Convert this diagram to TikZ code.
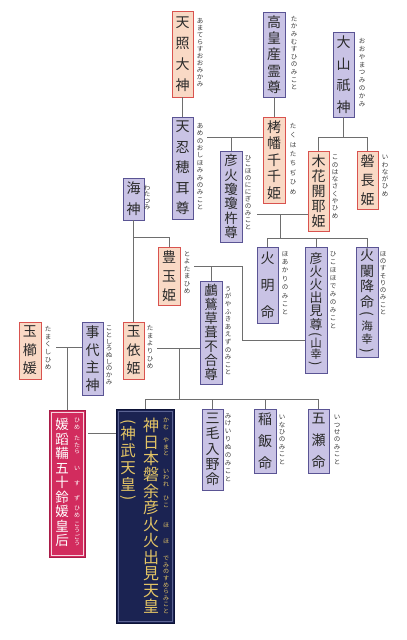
\documentclass[tikz,border=0pt]{standalone}
\usepackage{fontspec}
\usepackage{graphicx}
\newfontfamily\cjk{Noto Sans CJK JP}
\usetikzlibrary{calc}
\definecolor{lavF}{HTML}{C9C3E5}
\definecolor{lavD}{HTML}{5A5494}
\definecolor{peaF}{HTML}{F9D9C5}
\definecolor{peaD}{HTML}{D9534F}
\definecolor{crim}{HTML}{D22C5E}
\definecolor{crimD}{HTML}{A81C48}
\definecolor{navy}{HTML}{1B2352}
\definecolor{navyD}{HTML}{0C1236}
\definecolor{navyL}{HTML}{5C6494}
\definecolor{gold}{HTML}{E3C465}
\definecolor{lnc}{HTML}{6E6E6E}
\definecolor{rubyc}{HTML}{3A3A3A}
\definecolor{txt}{HTML}{2A2A2A}
\makeatletter
\def\vstk#1{\vstk@i#1\@nil}
\def\vstk@i#1#2\@nil{#1\ifx\relax#2\relax\expandafter\@gobble\else\expandafter\@firstofone\fi{\\\vstk@i#2\@nil}}
\makeatother
\newcommand\vlp{\rotatebox[origin=c]{-90}{(}}
\newcommand\vrp{\rotatebox[origin=c]{-90}{)}}
\newcommand\sm[1]{{\fontsize{11.5}{14}\selectfont #1}}
\tikzset{
  lav/.style={draw=lavD, fill=lavF, line width=0.9pt, inner sep=0pt, align=center, text=txt},
  pea/.style={draw=peaD, fill=peaF, line width=0.9pt, inner sep=0pt, align=center, text=txt},
  ruby/.style={inner sep=0pt, align=center, text=rubyc},
  ln/.style={draw=lnc, line width=0.8pt},
}
\newcommand\kbox[9]{\node[#1, minimum width={#5-#3}, minimum height={#6-#4}, font=\cjk\fontsize{#7}{#8}\selectfont] (#2) at ({(#3+#5)/2},{(#4+#6)/2}) {#9};}
\newcommand\rb[5]{\node[ruby, anchor=north, font=\cjk\fontsize{6.5}{#4}\selectfont] (#1) at (#2,#3) {\vstk{#5}};}
\newcommand\rbc[5]{\node[ruby, text=#5, font=\cjk\fontsize{6}{6.6}\selectfont] (#1) at (#2,#3) {\vstk{#4}};}
\begin{document}
\begin{tikzpicture}[x=1pt,y=-1pt]
\useasboundingbox (0,0) rectangle (407,640);
% boxes
\kbox{pea}{amaterasu}{172}{11}{193}{97}{14}{21}{\vstk{天照大神}}
\kbox{lav}{takami}{263}{12}{285}{97}{14}{16.2}{\vstk{高皇産霊尊}}
\kbox{lav}{ooyama}{333}{32}{354}{117}{14}{21.5}{\vstk{大山祇神}}
\kbox{lav}{oshiho}{172}{117}{193}{219}{14}{20.5}{\vstk{天忍穂耳尊}}
\kbox{pea}{takuhata}{263}{117}{285}{203}{14}{16.5}{\vstk{栲幡千千姫}}
\kbox{lav}{ninigi}{220}{151}{242}{242}{13.5}{14.4}{\vstk{彦火瓊瓊杵尊}}
\kbox{pea}{konohana}{308}{151}{329}{231}{14}{15}{\vstk{木花開耶姫}}
\kbox{pea}{iwanaga}{357}{151}{378}{209}{14}{19}{\vstk{磐長姫}}
\kbox{lav}{watatsumi}{123}{178}{144}{220}{14}{21}{\vstk{海神}}
\kbox{pea}{toyotama}{158}{247}{180}{305}{14}{19}{\vstk{豊玉姫}}
\kbox{lav}{hoakari}{257}{247}{278}{323}{14}{27}{\vstk{火明命}}
\kbox{lav}{hohodemi}{305}{247}{327}{373}{13}{13.2}{彦\\火\\火\\出\\見\\尊\\[-4pt]\vlp\\[-4pt]\sm{山}\\[-2pt]\sm{幸}\\[-4pt]\vrp}
\kbox{lav}{hosusori}{356}{247}{378}{357}{14}{15.5}{火\\闌\\降\\命\\[-4pt]\vlp\\[-4pt]\sm{海}\\[-2pt]\sm{幸}\\[-4pt]\vrp}
\kbox{lav}{ugaya}{200}{281}{222}{384}{13.5}{13.9}{\vstk{鸕鶿草葺不合尊}}
\kbox{pea}{tamayori}{123}{322}{144}{379}{14}{18.5}{\vstk{玉依姫}}
\kbox{lav}{kotoshiro}{82}{322}{103}{395}{14}{17.5}{\vstk{事代主神}}
\kbox{pea}{tamakushi}{19}{322}{41}{379}{14}{18.5}{\vstk{玉櫛媛}}
\kbox{lav}{mikeirinu}{202}{409}{223}{490}{14}{15.2}{\vstk{三毛入野命}}
\kbox{lav}{inahi}{254}{409}{276}{473}{14}{22}{\vstk{稲飯命}}
\kbox{lav}{itsuse}{308}{409}{329}{473}{14}{22}{\vstk{五瀬命}}
% empress
\node[draw=crimD, fill=crim, line width=0.9pt, minimum width=36, minimum height=147, inner sep=0pt] (hime) at (67,483.5) {};
\draw[white!80!crim, line width=0.5pt] ([shift={(2.5,2.5)}]hime.north west) rectangle ([shift={(-2.5,-2.5)}]hime.south east);
\node[font=\cjk\fontsize{13.5}{14.5}\selectfont, text=white, align=center, inner sep=0pt, anchor=north] (himeT) at (62,418) {\vstk{媛蹈鞴五十鈴媛皇后}};
\rbc{h1}{77}{424}{ひめ}{white}
\rbc{h2}{77}{445}{たたら}{white}
\rbc{h3}{77}{468}{い}{white}
\rbc{h4}{77}{483}{す}{white}
\rbc{h5}{77}{498}{ず}{white}
\rbc{h6}{77}{512}{ひめ}{white}
\rbc{h7}{77}{534}{こうごう}{white}
% emperor
\node[draw=navyD, fill=navy, line width=0.9pt, minimum width=58, minimum height=214, inner sep=0pt] (jimmu) at (145,516) {};
\draw[navyL, line width=0.5pt] ([shift={(2.5,2.5)}]jimmu.north west) rectangle ([shift={(-2.5,-2.5)}]jimmu.south east);
\node[font=\cjk\fontsize{16}{16.45}\selectfont, text=gold, align=center, inner sep=0pt, anchor=north] (jimmuT) at (151,418) {\vstk{神日本磐余彦火火出見天皇}};
\node[font=\cjk\fontsize{15.5}{17}\selectfont, text=gold, align=center, inner sep=0pt, anchor=north] (jimmuT2) at (128,419) {\vlp\\[-4pt]神\\武\\天\\皇\\[-5pt]\vrp};
\rbc{j1}{166}{424}{かむ}{gold}
\rbc{j2}{166}{447}{やまと}{gold}
\rbc{j3}{166}{478}{いわれ}{gold}
\rbc{j4}{166}{502}{ひこ}{gold}
\rbc{j5}{166}{525}{ほ}{gold}
\rbc{j6}{166}{541}{ほ}{gold}
\rbc{j7}{166}{585}{でみのすめらみこと}{gold}
% ruby
\rb{r1}{200}{18}{7.05}{あまてらすおおみかみ}
\rb{r2}{294}{16}{7.6}{たかみむすひのみこと}
\rb{r3}{362}{38}{7.9}{おおやまつみのかみ}
\rb{r4}{200}{123}{7.4}{あめのおしほみみのみこと}
\rb{r5}{293}{123}{9.4}{たくはたちぢひめ}
\rb{r6}{248}{155}{6.9}{ひこほのににぎのみこと}
\rb{r7}{335}{155}{7.3}{このはなさくやひめ}
\rb{r8}{385}{155}{7.3}{いわながひめ}
\rb{r9}{147}{185}{6.5}{わたつみ}
\rb{r10}{187}{251}{7.5}{とよたまひめ}
\rb{r11}{285}{251}{8.4}{ほあかりのみこと}
\rb{r12}{333}{251}{8.05}{ひこほほでみのみこと}
\rb{r13}{383}{251}{7.3}{ほのすそりのみこと}
\rb{r14}{228}{286}{7.6}{うがやふきあえずのみこと}
\rb{r15}{150}{325}{7.7}{たまよりひめ}
\rb{r16}{109}{326}{6.7}{ことしろぬしのかみ}
\rb{r17}{48}{326}{7.7}{たまくしひめ}
\rb{r18}{228}{413}{7.9}{みけいりぬのみこと}
\rb{r19}{282}{415}{7.4}{いなひのみこと}
\rb{r20}{337}{415}{7.4}{いつせのみこと}
% connectors
\coordinate (m1) at (207,137);
\draw[ln] (amaterasu.south) -- (oshiho.north);
\draw[ln] (takami.south) -- (takuhata.north);
\draw[ln] (m1) -- (m1 -| takuhata.west);
\draw[ln] (ninigi.north |- m1) -- (ninigi.north);
\draw[ln] (ooyama.south) -- (ooyama.south |- m1);
\draw[ln] (konohana.north) -- (konohana.north |- m1) -- (iwanaga.north |- m1) -- (iwanaga.north);
\coordinate (m2) at (257,214);
\coordinate (c2) at (280,214);
\coordinate (k2) at (280,238);
\draw[ln] (m2) -- (m2 -| konohana.west);
\draw[ln] (c2) -- (k2);
\draw[ln] (hoakari.north) -- (hoakari.north |- k2) -- (hosusori.north |- k2) -- (hosusori.north);
\draw[ln] (hohodemi.north |- k2) -- (hohodemi.north);
\coordinate (k3) at (0,237);
\draw[ln] (watatsumi.south) -- (tamayori.north);
\draw[ln] (watatsumi.south |- k3) -- (toyotama.north |- k3) -- (toyotama.north);
\coordinate (m3) at (194,266);
\coordinate (m3b) at (242,340);
\draw[ln] (m3) -- (m3 -| m3b) -- (m3b) -- (m3b -| hohodemi.west);
\draw[ln] (ugaya.north |- m3) -- (ugaya.north);
\coordinate (m4) at (157,348);
\coordinate (c4) at (179,348);
\coordinate (k4) at (179,399);
\draw[ln] (m4) -- (m4 -| ugaya.west);
\draw[ln] (c4) -- (k4);
\draw[ln] (jimmu.north) -- (jimmu.north |- k4) -- (itsuse.north |- k4) -- (itsuse.north);
\draw[ln] (mikeirinu.north |- k4) -- (mikeirinu.north);
\draw[ln] (inahi.north |- k4) -- (inahi.north);
\coordinate (m5) at (56,347);
\draw[ln] (m5) -- (m5 -| kotoshiro.west);
\draw[ln] (hime.north |- m5) -- (hime.north);
\coordinate (m6) at (88,433);
\draw[ln] (m6) -- (m6 -| jimmu.west);
\end{tikzpicture}
\end{document}
